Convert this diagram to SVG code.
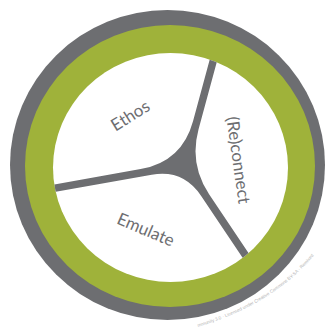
<svg xmlns="http://www.w3.org/2000/svg" width="329" height="329" viewBox="0 0 329 329">
<style>
.lbl{font-family:Lato,"Open Sans","Liberation Sans",sans-serif;fill:#6d6e71;font-size:17px;text-anchor:middle;dominant-baseline:central}
.tiny{font-family:"Liberation Sans",sans-serif;fill:#b5b5b5;font-size:4.6px}
</style>
<defs>
<clipPath id="inner"><ellipse cx="170.5" cy="167.5" rx="117.5" ry="114.5"/></clipPath>
<path id="arc" d="M 198,327 Q 292,298 330,232"/>
</defs>
<rect width="329" height="329" fill="#ffffff"/>
<g id="rings">
<ellipse cx="167.5" cy="165" rx="157.5" ry="155" fill="#6d6e71"/>
<ellipse cx="170" cy="166" rx="145" ry="141" fill="#9fb23a"/>
<ellipse cx="170.5" cy="167.5" rx="117.5" ry="114.5" fill="#ffffff"/>
</g>
<g id="connectors" clip-path="url(#inner)">
<path d="M 212.8,48.2 L 193.0,121.2 Q 182.0,161.7 140.6,169.1 L 46.5,185.8 L 47.9,193.2 L 151.7,174.7 Q 183.2,169.1 201.0,195.7 L 251.5,270.9 L 257.7,266.7 L 209.1,194.2 Q 189.1,164.3 198.5,129.6 L 220.0,50.2 Z" fill="#6d6e71"/>
</g>
<g id="ethos"><text class="lbl" transform="translate(130,115) rotate(-32)">Ethos</text></g>
<g id="reconnect"><text class="lbl" transform="translate(239,160) rotate(82)">(Re)connect</text></g>
<g id="emulate"><text class="lbl" transform="translate(146,229) rotate(23)">Emulate</text></g>
<g id="credit"><text class="tiny"><textPath href="#arc">mmunity 3.0 · Licensed under Creative Commons BY-SA · Remixed</textPath></text></g>
</svg>
